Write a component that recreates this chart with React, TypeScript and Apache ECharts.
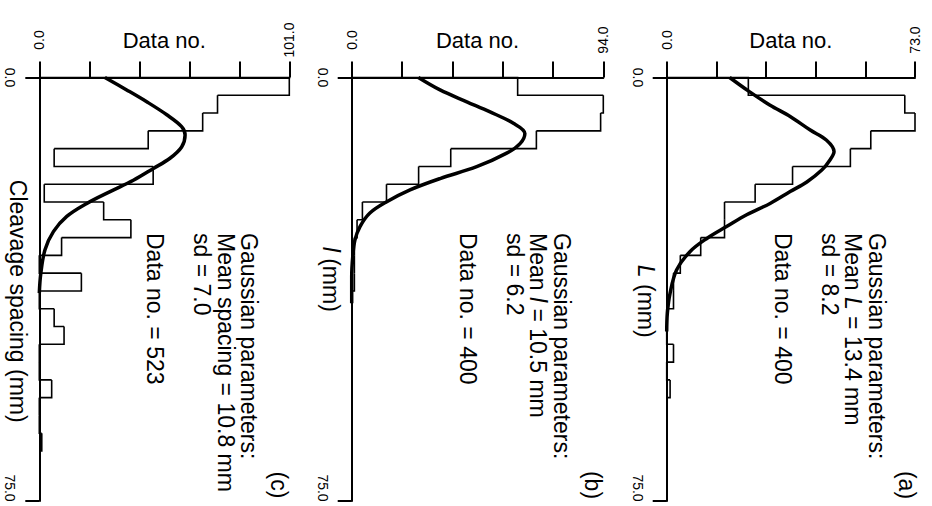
import React, { useEffect, useRef } from 'react';
import * as echarts from 'echarts';

// ---------- data ----------
const LENGTH_MIN = 0;
const LENGTH_MAX = 75;
const BIN_WIDTH_MM = 3.15;

// panel (a): L (mm)
const countMaxA = 73;
const histA = [24, 70, 73, 60, 54, 37, 26, 17, 17, 10, 4, 2, 2, 0, 0, 2, 0, 1];
const curveA: [number, number][] = [
  [18.5, 0], [24.3, 2.5], [30.4, 4.9], [36.3, 6.9], [42.2, 9.3], [47.0, 11.1], [49.2, 13.1],
  [48.0, 14.6], [45.6, 16.4], [41.2, 18.5], [36.3, 20.2], [30.4, 22.3], [23.5, 24.3],
  [17.6, 26.4], [11.8, 28.5], [6.9, 30.8], [2.9, 34.1], [1.0, 38.2], [0.2, 41.7], [0, 45],
];
const linesA = ['Gaussian parameters:', 'Mean {i|L} = 13.4 mm', 'sd = 8.2', '', 'Data no. = 400'];

// panel (b): l (mm)
const countMaxB = 94;
const histB = [62, 94, 93, 69, 37, 25, 13, 4, 2, 1, 1, 1];
const curveB: [number, number][] = [
  [24.9, 0], [33.0, 2.2], [43.0, 4.3], [51.7, 6.1], [60.4, 8.1], [64.7, 9.9], [62.9, 11.7],
  [57.9, 13.4], [46.7, 15.8], [33.0, 17.9], [21.8, 19.9], [13.1, 22.0], [6.8, 24.0],
  [3.1, 26.4], [1.2, 28.8], [0.4, 31.7], [0, 35.3], [0, 40],
];
const linesB = ['Gaussian parameters:', 'Mean {i|l} = 10.5 mm', 'sd = 6.2', '', 'Data no. = 400'];

// panel (c): cleavage spacing (mm)
const countMaxC = 101;
const histC = [101, 72, 66, 44, 6, 46, 2, 26, 37, 9, 0, 17, 0, 6, 10, 0, 0, 5, 0, 0, 1];
const curveC: [number, number][] = [
  [26.5, 0], [35.3, 2.2], [43.4, 4.3], [51.5, 6.6], [57.5, 8.7], [58.9, 10.2], [57.5, 12.3],
  [52.8, 14.3], [46.1, 16.1], [38.0, 18.2], [28.6, 20.2], [19.2, 22.3], [11.1, 24.6],
  [5.7, 27.3], [2.3, 30.5], [0.6, 34.7], [0, 38.2],
];
const linesC = ['Gaussian parameters:', 'Mean spacing = 10.8 mm', 'sd = 7.0', '', 'Data no. = 523'];

const countAxisName = 'Data no.';
const lengthAxisNames = ['{i|L} (mm)', '{i|l} (mm)', 'Cleavage spacing (mm)'];
const panelLabels = ['(a)', '(b)', '(c)'];

// ---------- layout ----------
const FONT = '"Liberation Sans", Arial, Helvetica, sans-serif';
const BLACK = '#000';

interface PanelCfg {
  max: number;
  hist: number[];
  curve: [number, number][];
  lines: string[];
  axisName: string;
  label: string;
  left: number;
  width: number;
  namePad: number[];
  textX: number;
  labelX: number;
}

const panels: PanelCfg[] = [
  { max: countMaxC, hist: histC, curve: curveC, lines: linesC, axisName: lengthAxisNames[2], label: panelLabels[2],
    left: 39.3, width: 250, namePad: [0, 0, 0, 24], textX: 249, labelX: 278.5 },
  { max: countMaxB, hist: histB, curve: curveB, lines: linesB, axisName: lengthAxisNames[1], label: panelLabels[1],
    left: 351.7, width: 251.6, namePad: [0, 20, 0, 0], textX: 561.7, labelX: 592.5 },
  { max: countMaxA, hist: histA, curve: curveA, lines: linesA, axisName: lengthAxisNames[0], label: panelLabels[0],
    left: 666.7, width: 248.3, namePad: [0, 0, 0, 24], textX: 876.7, labelX: 906.7 },
];

const GRID_TOP = 77.5;
const GRID_HEIGHT = 423.5;
const TEXT_TOP = 233;
const LINE_H = 23.5;

const richItalic = { i: { fontStyle: 'italic', fontSize: 23, fontFamily: FONT, color: BLACK } };

function buildOption() {
  const grid: any[] = [];
  const xAxis: any[] = [];
  const yAxis: any[] = [];
  const series: any[] = [];
  const graphic: any[] = [];

  panels.forEach((p, i) => {
    grid.push({ left: p.left, top: GRID_TOP, width: p.width, height: GRID_HEIGHT, containLabel: false, outerBoundsMode: 'none' });
    const max = p.max;
    xAxis.push({
      gridIndex: i, type: 'value', position: 'top', min: 0, max, interval: max / 5,
      name: countAxisName, nameLocation: 'middle', nameGap: 37.5, nameMoveOverlap: false,
      nameTextStyle: { fontSize: 22, fontFamily: FONT, color: BLACK, align: 'center', verticalAlign: 'middle' },
      axisLine: { onZero: false, lineStyle: { color: BLACK, width: 2 } },
      axisTick: { length: 16, lineStyle: { color: BLACK, width: 2 } },
      axisLabel: {
        rotate: -90, margin: 37.5, align: 'center', verticalAlign: 'middle',
        fontSize: 14, fontFamily: FONT, color: BLACK, showMinLabel: true, showMaxLabel: true,
        formatter: (v: number) => (Math.abs(v) < 1e-6 || Math.abs(v - max) < 1e-6 ? v.toFixed(1) : ''),
      },
      splitLine: { show: false },
    });
    yAxis.push({
      gridIndex: i, type: 'value', inverse: true, min: LENGTH_MIN, max: LENGTH_MAX, interval: LENGTH_MAX - LENGTH_MIN,
      name: p.axisName, nameLocation: 'middle', nameGap: 21, nameRotate: -90, nameMoveOverlap: false,
      nameTextStyle: {
        fontSize: 23, fontFamily: FONT, color: BLACK, align: 'center', verticalAlign: 'middle',
        padding: p.namePad, rich: richItalic,
      },
      axisLine: { onZero: false, lineStyle: { color: BLACK, width: 2 } },
      axisTick: { length: 14, lineStyle: { color: BLACK, width: 2 } },
      axisLabel: {
        rotate: -90, margin: 29, align: 'center', verticalAlign: 'middle',
        fontSize: 14, fontFamily: FONT, color: BLACK, showMinLabel: true, showMaxLabel: true,
        formatter: (v: number) => (v === LENGTH_MAX ? '{m|' + v.toFixed(1) + '}' : v.toFixed(1)),
        rich: { m: { padding: [0, 26, 0, 0], fontSize: 14, fontFamily: FONT, color: BLACK } },
      },
      splitLine: { show: false },
    });

    const histData = p.hist.map((c, k) => [
      k * BIN_WIDTH_MM,
      (k + 1) * BIN_WIDTH_MM,
      c,
      k + 1 < p.hist.length ? p.hist[k + 1] : 0,
    ]);
    series.push({
      type: 'custom', xAxisIndex: i, yAxisIndex: i, data: histData, z: 2,
      encode: { x: [2, 3], y: [0, 1] },
      renderItem: (params: any, api: any) => {
        const s = api.value(0), e = api.value(1), c = api.value(2), n = api.value(3);
        const pts = [api.coord([c, s]), api.coord([c, e]), api.coord([n, e])];
        if (params.dataIndex === 0) pts.unshift(api.coord([0, s]));
        return { type: 'polyline', shape: { points: pts }, style: { stroke: BLACK, lineWidth: 1.6, fill: 'none' } };
      },
    });
    series.push({
      type: 'line', xAxisIndex: i, yAxisIndex: i, data: p.curve, z: 3,
      showSymbol: false, symbol: 'none', smooth: 0.35,
      lineStyle: { color: BLACK, width: 3.5 },
    });

    p.lines.forEach((ln, k) => {
      if (!ln) return;
      graphic.push({
        type: 'text', x: p.textX - k * LINE_H, y: TEXT_TOP, rotation: -Math.PI / 2,
        style: {
          text: ln, fontSize: 23, fontFamily: FONT, fill: BLACK,
          align: 'left', textAlign: 'left', verticalAlign: 'middle', textVerticalAlign: 'middle',
          rich: richItalic,
        },
      });
    });
    graphic.push({
      type: 'text', x: p.labelX, y: 485, rotation: -Math.PI / 2,
      style: {
        text: p.label, fontSize: 23, fontFamily: FONT, fill: BLACK,
        align: 'center', textAlign: 'center', verticalAlign: 'middle', textVerticalAlign: 'middle',
      },
    });
  });

  return {
    animation: false,
    backgroundColor: '#fff',
    grid, xAxis, yAxis, series, graphic,
  };
}

export default function App() {
  const ref = useRef<HTMLDivElement>(null);
  useEffect(() => {
    if (!ref.current) return;
    const chart = echarts.init(ref.current, null, { renderer: 'svg' });
    chart.setOption(buildOption() as any);
    return () => chart.dispose();
  }, []);
  return (
    <div
      ref={ref}
      style={{ position: 'fixed', left: 0, top: 0, width: 932, height: 506, background: '#fff' }}
    />
  );
}
